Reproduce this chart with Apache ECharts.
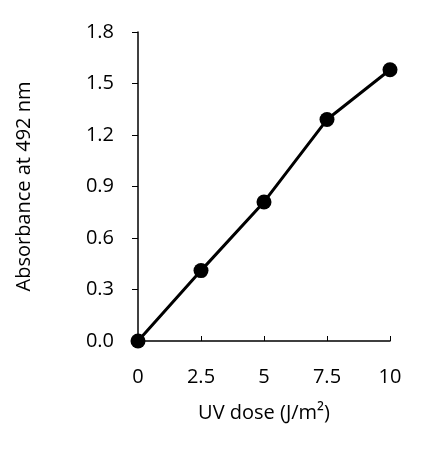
<!DOCTYPE html>
<html>
<head>
<meta charset="utf-8">
<script src="https://cdn.jsdelivr.net/npm/echarts@6/dist/echarts.min.js"></script>
<style>html,body{margin:0;background:#fff}#box{width:427px;height:463px}</style>
</head>
<body>
<div id="box"></div>
<script>
// UV dose vs absorbance
var doses = [0, 2.5, 5, 7.5, 10];
var absorbance = [0, 0.41, 0.81, 1.29, 1.58];
var yTicks = [0, 0.3, 0.6, 0.9, 1.2, 1.5, 1.8];

var myChart = echarts.init(document.getElementById("box"));
var font = 'Open Sans, sans-serif';
var option = {
    animation: false,
    grid: { left: 138, right: 37, top: 32, bottom: 122 },
    xAxis: {
        type: 'value', min: 0, max: 10, interval: 2.5,
        name: 'UV dose (J/m²)', nameLocation: 'middle', nameGap: 62,
        nameTextStyle: { color: '#000', fontSize: 20, fontFamily: font },
        axisLine: { onZero: false, lineStyle: { color: '#000', width: 1.5 } },
        axisTick: { show: true, inside: true, lineStyle: { color: '#000' } },
        axisLabel: { color: '#000', fontSize: 20, fontFamily: font, margin: 26,
            formatter: function (v) { return String(v); } },
        splitLine: { show: false }
    },
    yAxis: {
        type: 'value', min: 0, max: 1.8, interval: 0.3,
        name: 'Absorbance at 492 nm', nameLocation: 'middle', nameGap: 104,
        nameTextStyle: { color: '#000', fontSize: 20, fontFamily: font },
        axisLine: { show: true, lineStyle: { color: '#000', width: 1.5 } },
        axisTick: { show: true, length: 6, lineStyle: { color: '#000' } },
        axisLabel: { color: '#000', fontSize: 20, fontFamily: font, margin: 24,
            formatter: function (v) { return v.toFixed(1); } },
        splitLine: { show: false }
    },
    series: [{
        type: 'line',
        data: doses.map(function (d, i) { return [d, absorbance[i]]; }),
        symbol: 'circle', symbolSize: 15,
        itemStyle: { color: '#000' },
        lineStyle: { color: '#000', width: 3 }
    }]
};
option && myChart.setOption(option);
</script>
</body>
</html>
